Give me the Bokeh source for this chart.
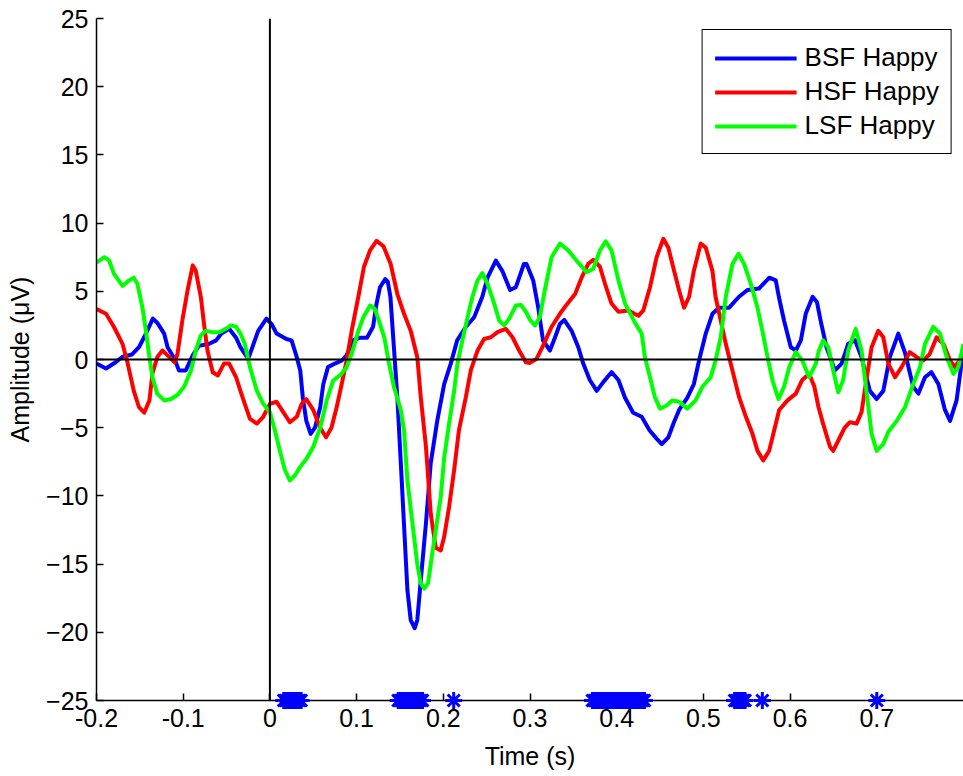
from bokeh.plotting import figure
from bokeh.models import Span, FixedTicker, Legend, LegendItem
from bokeh.embed import file_html
from bokeh.resources import INLINE

# ---- data (time in s, amplitude in µV) ----
bsf_t = [-0.2, -0.189, -0.178, -0.170, -0.159, -0.151, -0.143, -0.135, -0.130, -0.122, -0.118, -0.110,
         -0.105, -0.097, -0.089, -0.082, -0.070, -0.062, -0.056, -0.047, -0.039, -0.034, -0.025, -0.0135,
         -0.004, 0.002, 0.0077, 0.019, 0.025, 0.031, 0.035, 0.038, 0.042, 0.047, 0.052, 0.058, 0.0616,
         0.067, 0.075, 0.083, 0.0885, 0.096, 0.104, 0.112, 0.119, 0.123, 0.127, 0.133, 0.136, 0.139,
         0.143, 0.147, 0.151, 0.155, 0.1586, 0.1624, 0.167, 0.170, 0.174, 0.180, 0.1855, 0.193, 0.201,
         0.2086, 0.216, 0.226, 0.2356, 0.245, 0.251, 0.2606, 0.268, 0.277, 0.2837, 0.293, 0.296, 0.3037,
         0.3095, 0.315, 0.323, 0.3287, 0.3345, 0.3395, 0.348, 0.3557, 0.3614, 0.369, 0.377, 0.3845, 0.394,
         0.402, 0.4096, 0.419, 0.4288, 0.438, 0.446, 0.452, 0.4596, 0.466, 0.472, 0.4815, 0.489, 0.495,
         0.5027, 0.5104, 0.518, 0.5297, 0.541, 0.5508, 0.564, 0.576, 0.5835, 0.587, 0.593, 0.6008, 0.6066,
         0.6124, 0.618, 0.626, 0.631, 0.636, 0.642, 0.6516, 0.6594, 0.667, 0.675, 0.6824, 0.692, 0.6998,
         0.7075, 0.715, 0.7248, 0.7325, 0.742, 0.748, 0.7556, 0.763, 0.771, 0.7786, 0.7845, 0.792, 0.8]
bsf_v = [-0.3, -0.66, -0.2, 0.2, 0.37, 0.9, 1.9, 3.0, 2.7, 1.9, 0.9, 0.05,
         -0.8, -0.8, 0.3, 1.0, 1.15, 1.4, 1.9, 2.25, 1.6, 0.9, 0.05, 2.1,
         3.0, 2.6, 1.9, 1.5, 1.4, 0.17, -0.8, -2.8, -4.5, -5.45, -5.0, -3.5, -1.8,
         -0.56, -0.3, -0.07, 0.3, 1.4, 1.6, 1.6, 2.4, 4.1, 5.3, 5.9, 5.7, 4.6,
         0.9, -2.8, -7.6, -12.5, -16.9, -19.1, -19.7, -19.1, -16.2, -12.0, -7.6, -4.5, -1.8,
         -0.3, 1.4, 2.4, 3.1, 4.6, 6.0, 7.25, 6.5, 5.1, 5.3, 7.0, 7.0, 5.8,
         3.8, 1.4, 0.66, 1.6, 2.6, 2.9, 2.1, 0.9, -0.3, -1.5, -2.3, -1.66, -0.93,
         -1.5, -2.8, -3.9, -4.2, -5.2, -5.8, -6.2, -5.7, -4.6, -3.7, -2.8, -1.8, -0.07,
         1.9, 3.35, 3.8, 3.8, 4.6, 5.1, 5.2, 6.0, 5.8, 4.6, 2.86, 0.9, 0.66,
         1.4, 3.35, 4.6, 4.2, 2.6, 0.9, -0.8, -0.3, 1.15, 1.4, 0.17, -2.3, -2.9,
         -2.3, 0.17, 1.9, 0.5, -2.0, -2.5, -1.3, -0.93, -1.8, -3.7, -4.5, -3.0, 0.8]

hsf_t = [-0.2, -0.189, -0.180, -0.170, -0.164, -0.157, -0.151, -0.145, -0.139, -0.1355, -0.130, -0.124,
         -0.118, -0.110, -0.1066, -0.101, -0.095, -0.089, -0.0855, -0.0797, -0.076, -0.072, -0.066, -0.060,
         -0.053, -0.047, -0.039, -0.034, -0.029, -0.023, -0.015, -0.0077, 0.0, 0.0077, 0.0154, 0.023, 0.031,
         0.0366, 0.042, 0.050, 0.058, 0.0647, 0.071, 0.077, 0.0828, 0.0885, 0.0943, 0.102, 0.1085, 0.1155,
         0.123, 0.131, 0.1393, 0.147, 0.1547, 0.1624, 0.170, 0.174, 0.180, 0.1855, 0.1913, 0.197, 0.201,
         0.2067, 0.2125, 0.218, 0.226, 0.2317, 0.2395, 0.247, 0.2548, 0.2625, 0.272, 0.2798, 0.2875, 0.2952,
         0.300, 0.3075, 0.315, 0.3249, 0.3345, 0.342, 0.352, 0.3595, 0.367, 0.373, 0.3807, 0.3865, 0.394,
         0.402, 0.4134, 0.425, 0.4307, 0.4384, 0.446, 0.4538, 0.4596, 0.465, 0.472, 0.4777, 0.4835, 0.489,
         0.4969, 0.5027, 0.5104, 0.514, 0.520, 0.5258, 0.5335, 0.5412, 0.549, 0.5566, 0.5624, 0.569, 0.5758,
         0.5816, 0.5874, 0.597, 0.6066, 0.614, 0.622, 0.628, 0.6328, 0.638, 0.646, 0.6497, 0.6574, 0.663,
         0.669, 0.6767, 0.6824, 0.688, 0.694, 0.7017, 0.7075, 0.7133, 0.721, 0.7286, 0.738, 0.746, 0.7537,
         0.761, 0.769, 0.7768, 0.7845, 0.790, 0.798]
hsf_v = [3.7, 3.35, 2.4, 1.15, -0.3, -2.3, -3.5, -3.9, -3.0, -1.05, 0.17, 0.66,
         0.3, -0.2, 0.4, 2.86, 5.06, 6.9, 6.5, 4.6, 2.6, 0.66, -0.93, -1.17,
         -0.3, -0.3, -1.3, -2.3, -3.25, -4.35, -4.7, -4.2, -3.25, -3.1, -3.86, -4.6, -4.2,
         -3.25, -2.9, -3.7, -5.0, -5.7, -5.0, -3.5, -1.8, -0.07, 2.1, 4.6, 6.8, 8.0,
         8.7, 8.3, 7.0, 4.8, 3.35, 2.1, 0.17, -2.76, -6.4, -11.3, -13.8, -14.0, -13.0,
         -10.8, -8.1, -5.2, -2.76, -0.8, 0.66, 1.5, 1.63, 2.0, 2.25, 1.63, 0.66, -0.2,
         -0.25, 0.05, 1.0, 2.4, 3.35, 4.0, 4.8, 6.0, 7.0, 7.3, 6.8, 5.55, 4.1,
         3.5, 3.6, 3.2, 3.6, 5.3, 7.5, 8.85, 8.2, 6.8, 5.06, 3.8, 4.6, 6.5,
         8.5, 8.2, 6.5, 4.6, 2.86, 1.15, -0.8, -2.76, -4.2, -5.45, -6.7, -7.4, -6.7,
         -5.2, -3.7, -3.0, -2.5, -1.5, -1.05, -2.0, -3.5, -4.7, -6.4, -6.7, -5.7, -5.0,
         -4.6, -4.7, -3.86, -1.5, 0.9, 2.1, 1.63, -0.3, -1.3, -0.56, 0.54, 0.17, -0.07,
         0.4, 1.63, 1.15, -0.07, -0.56, 0.17]

lsf_t = [-0.2, -0.191, -0.1855, -0.180, -0.170, -0.1624, -0.157, -0.1528, -0.147, -0.143, -0.139, -0.1355,
         -0.130, -0.122, -0.114, -0.1066, -0.099, -0.091, -0.0855, -0.0797, -0.074, -0.066, -0.0585, -0.0508,
         -0.045, -0.039, -0.034, -0.029, -0.023, -0.015, -0.0077, 0.0, 0.0058, 0.0115, 0.0173, 0.023, 0.0289,
         0.0346, 0.042, 0.050, 0.058, 0.0655, 0.073, 0.0808, 0.0885, 0.0943, 0.102, 0.1078, 0.1155, 0.1212,
         0.127, 0.132, 0.1374, 0.143, 0.151, 0.1547, 0.1586, 0.1644, 0.170, 0.174, 0.178, 0.1824, 0.1855,
         0.1913, 0.197, 0.201, 0.2067, 0.2125, 0.2163, 0.222, 0.2298, 0.2336, 0.2395, 0.245, 0.251, 0.2587,
         0.2644, 0.2702, 0.276, 0.2837, 0.2895, 0.2952, 0.300, 0.3057, 0.3114, 0.317, 0.3249, 0.3345, 0.344,
         0.3557, 0.3653, 0.373, 0.3807, 0.3873, 0.394, 0.402, 0.4096, 0.421, 0.4288, 0.4326, 0.4384, 0.444,
         0.45, 0.4576, 0.464, 0.472, 0.4815, 0.491, 0.4988, 0.5085, 0.514, 0.520, 0.5258, 0.5335, 0.5404,
         0.547, 0.5546, 0.5624, 0.568, 0.574, 0.5797, 0.5866, 0.593, 0.599, 0.6066, 0.614, 0.622, 0.6297,
         0.633, 0.638, 0.644, 0.6497, 0.6555, 0.661, 0.667, 0.6756, 0.6824, 0.688, 0.694, 0.6998, 0.7075,
         0.7133, 0.723, 0.7325, 0.742, 0.7498, 0.7556, 0.765, 0.7729, 0.7806, 0.7884, 0.794, 0.8]
lsf_v = [7.1, 7.5, 7.26, 6.3, 5.4, 5.8, 6.0, 5.55, 3.8, 2.1, 0.17, -1.3,
         -2.5, -3.0, -2.9, -2.6, -2.0, -0.8, 0.66, 1.76, 2.1, 2.0, 2.0, 2.25,
         2.5, 2.4, 1.9, 1.15, -0.56, -2.3, -3.25, -3.86, -5.2, -6.7, -8.1, -8.87, -8.5,
         -7.9, -7.3, -6.4, -5.0, -3.0, -1.54, -1.17, -0.56, 0.4, 2.1, 3.1, 3.96, 3.7,
         2.6, 1.6, -0.3, -2.0, -3.7, -5.2, -8.87, -12.0, -15.0, -16.4, -16.8, -16.4, -15.0,
         -12.5, -10.1, -7.2, -4.7, -2.3, -0.3, 1.4, 3.6, 4.6, 5.8, 6.33, 5.55, 4.1,
         2.86, 2.5, 3.0, 3.96, 4.0, 3.5, 2.9, 2.5, 3.1, 5.06, 7.5, 8.5, 8.0,
         7.1, 6.4, 6.65, 8.0, 8.67, 8.0, 5.8, 4.1, 2.7, 1.9, 0.17, -1.3, -2.76,
         -3.6, -3.37, -3.0, -3.1, -3.6, -3.0, -2.0, -1.3, -0.07, 1.63, 4.6, 7.0, 7.75,
         7.0, 5.55, 3.8, 2.1, 0.17, -1.54, -2.9, -2.0, -0.56, 0.54, -0.07, -1.3, -0.3,
         0.6, 1.4, 0.9, -0.8, -2.4, -1.54, 0.66, 2.25, 0.66, -2.3, -5.45, -6.7, -6.2,
         -5.3, -4.5, -3.5, -1.8, -0.56, 1.15, 2.4, 1.9, 0.17, -1.05, -0.56, 1.15]

# significant time points (marked on the bottom axis, 2 ms samples)
sig_t = [0.016, 0.018, 0.020, 0.022, 0.024, 0.026, 0.028, 0.030, 0.032, 0.034, 0.036,
         0.148, 0.150, 0.152, 0.154, 0.156, 0.158, 0.160, 0.162, 0.164, 0.166, 0.168, 0.170,
         0.172, 0.174, 0.176,
         0.212,
         0.372, 0.374, 0.376, 0.378, 0.380, 0.382, 0.384, 0.386, 0.388, 0.390, 0.392, 0.394,
         0.396, 0.398, 0.400, 0.402, 0.404, 0.406, 0.408, 0.410, 0.412, 0.414, 0.416, 0.418,
         0.420, 0.422, 0.424, 0.426, 0.428, 0.430, 0.432,
         0.536, 0.538, 0.540, 0.542, 0.544, 0.546, 0.548,
         0.568,
         0.700]
sig_y = [-25] * len(sig_t)

series_labels = ["BSF Happy", "HSF Happy", "LSF Happy"]
series_colors = ["#0000ff", "#ff0000", "#00ff00"]
x_ticks = [-0.2, -0.1, 0.0, 0.1, 0.2, 0.3, 0.4, 0.5, 0.6, 0.7]
x_tick_labels = ["-0.2", "-0.1", "0", "0.1", "0.2", "0.3", "0.4", "0.5", "0.6", "0.7"]
y_ticks = [-25, -20, -15, -10, -5, 0, 5, 10, 15, 20, 25]

FONT = "Liberation Sans"
FS = "25px"

p = figure(width=963, height=776, x_range=(-0.2, 0.8), y_range=(-25, 25),
           output_backend="svg", toolbar_location=None,
           min_border_left=96, min_border_right=0, min_border_top=18, min_border_bottom=76)
p.outline_line_color = None
p.xgrid.grid_line_color = None
p.ygrid.grid_line_color = None
p.background_fill_color = "white"
p.border_fill_color = "white"

p.xaxis.ticker = FixedTicker(ticks=x_ticks)
p.xaxis.major_label_overrides = {t: l for t, l in zip(x_ticks, x_tick_labels)}
p.yaxis.ticker = FixedTicker(ticks=y_ticks)
for ax in (p.xaxis, p.yaxis):
    ax.major_tick_in = 7
    ax.major_tick_out = 0
    ax.minor_tick_line_color = None
    ax.axis_line_width = 1.5
    ax.major_tick_line_width = 1.5
    ax.axis_line_color = "black"
    ax.major_label_text_font = FONT
    ax.major_label_text_font_size = FS
    ax.major_label_text_color = "black"
    ax.axis_label_text_font = FONT
    ax.axis_label_text_font_size = FS
    ax.axis_label_text_font_style = "normal"
    ax.axis_label_text_color = "black"
p.xaxis.axis_label = "Time (s)"
p.yaxis.axis_label = "Amplitude (\u03bcV)"
p.xaxis.major_label_standoff = 8
p.yaxis.major_label_standoff = 8
p.xaxis.axis_label_standoff = 12
p.yaxis.axis_label_standoff = 9

p.add_layout(Span(location=0, dimension="width", line_color="black", line_width=2))
p.add_layout(Span(location=0, dimension="height", line_color="black", line_width=2))

renderers = []
for (tt, vv), col in zip([(bsf_t, bsf_v), (hsf_t, hsf_v), (lsf_t, lsf_v)], series_colors):
    r = p.line(tt, vv, line_color=col, line_width=4, line_join="round")
    renderers.append(r)

sc = p.scatter(sig_t, sig_y, marker="asterisk", size=17, line_color="#0000ff", line_width=3)
sc.level = "overlay"

legend = Legend(items=[LegendItem(label=l, renderers=[r]) for l, r in zip(series_labels, renderers)],
                location="top_right")
legend.margin = 11
legend.padding = 12
legend.spacing = 3
legend.glyph_width = 82
legend.glyph_height = 26
legend.label_height = 26
legend.label_standoff = 8
legend.label_text_font = FONT
legend.label_text_font_size = "26px"
legend.label_text_color = "black"
legend.border_line_color = "black"
legend.border_line_width = 1.5
legend.border_line_alpha = 1.0
legend.background_fill_alpha = 1.0
p.add_layout(legend)

open("out.html", "w").write(file_html(p, INLINE))
